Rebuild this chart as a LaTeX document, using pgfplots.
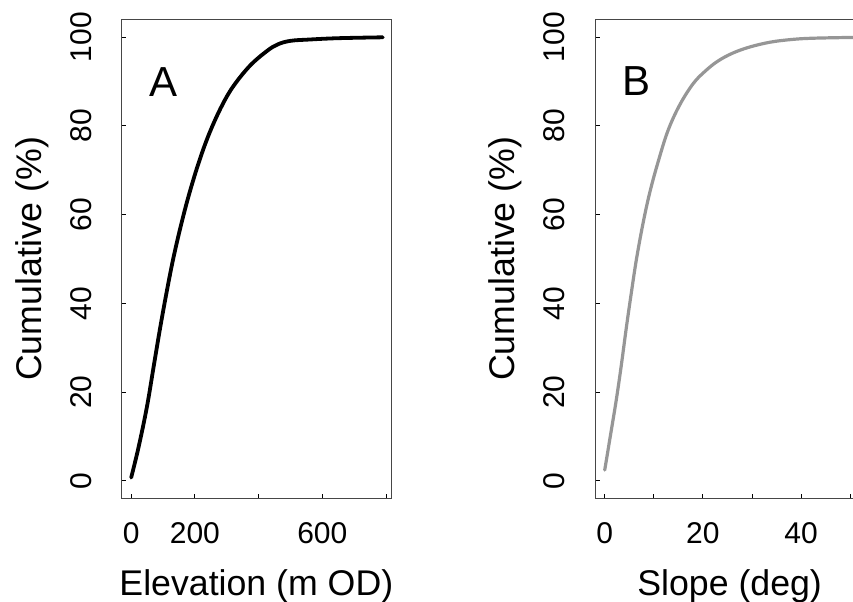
\documentclass[border=0pt]{standalone}
\usepackage{pgfplots}
\pgfplotsset{compat=1.18}
\usepackage{fontspec}
\setmainfont{Liberation Sans}
\definecolor{curvegray}{RGB}{150,150,150}
\definecolor{boxgray}{RGB}{70,70,70}

\pgfplotstableread{
x y
0 0.7
23 7.5
49 16.5
70 25.5
91 34.5
112 42.8
133 50.4
159 58.4
185 65.4
216 72.6
248 78.8
285 84.6
321 89
373 93.6
426 96.9
460 98.4
500 99.2
560 99.5
650 99.8
790 100
}\elevation

\pgfplotstableread{
x y
0 2.4
1.36 11.5
2.38 18.4
3.4 26.2
4.4 34.5
5.45 42.6
6.47 50.0
7.83 58.2
9.2 65.1
10.9 72
12.9 79
15.3 84.8
18.05 89.6
20.5 92.4
23 94.6
26 96.4
29.5 97.8
33.7 98.9
38 99.5
42.6 99.8
52 100
}\slope

\pgfplotsset{
  panel/.style={
    scale only axis,
    width=134.65pt, height=239.5pt,
    anchor=south west,
    axis line style={boxgray, line width=0.5pt},
    tick style={black, line width=0.5pt},
    major tick length=2.25pt,
    tick align=inside,
    xtick pos=bottom, ytick pos=left,
    ymin=-3.97, ymax=104.06,
    ytick={0,20,40,60,80,100},
    yticklabels={0,20,40,60,80,100},
    tick label style={font=\fontsize{15}{18}\selectfont},
    yticklabel style={xshift=-20.5pt, rotate=90, anchor=center},
    xticklabel style={yshift=-17.35pt, anchor=center},
    label style={font=\fontsize{17.85}{21}\selectfont},
    xlabel style={at={(axis description cs:0.5,-0.2019)}, anchor=base},
    ylabel style={at={(axis description cs:-0.2971,0.5)}, anchor=base, rotate=0},
    ylabel={Cumulative (\%)},
  }
}

\begin{document}
\begin{tikzpicture}
\path[use as bounding box, clip] (0,0) rectangle (426.5pt,300.5pt);

\begin{axis}[panel,
  at={(60.85pt,51.35pt)},
  xmin=-29.8, xmax=815.7,
  xtick={0,200,400,600,800},
  xticklabels={0,200,,600,},
  xlabel={Elevation (m OD)},
]
\addplot[black, line width=1.9pt, line cap=round, line join=round, smooth, tension=0.6] table[x=x,y=y] {\elevation};
\node[font=\fontsize{21}{25}\selectfont, anchor=center] at (axis description cs:0.1534,0.869) {A};
\end{axis}

\begin{axis}[panel,
  at={(297.5pt,51.35pt)},
  xmin=-1.98, xmax=52.87,
  xtick={0,10,20,30,40,50},
  xticklabels={0,,20,,40,},
  xlabel={Slope (deg)},
]
\addplot[curvegray, line width=1.6pt, line cap=round, line join=round, smooth, tension=0.6] table[x=x,y=y] {\slope};
\node[font=\fontsize{21}{25}\selectfont, anchor=center] at (axis description cs:0.1548,0.871) {B};
\end{axis}
\end{tikzpicture}
\end{document}
